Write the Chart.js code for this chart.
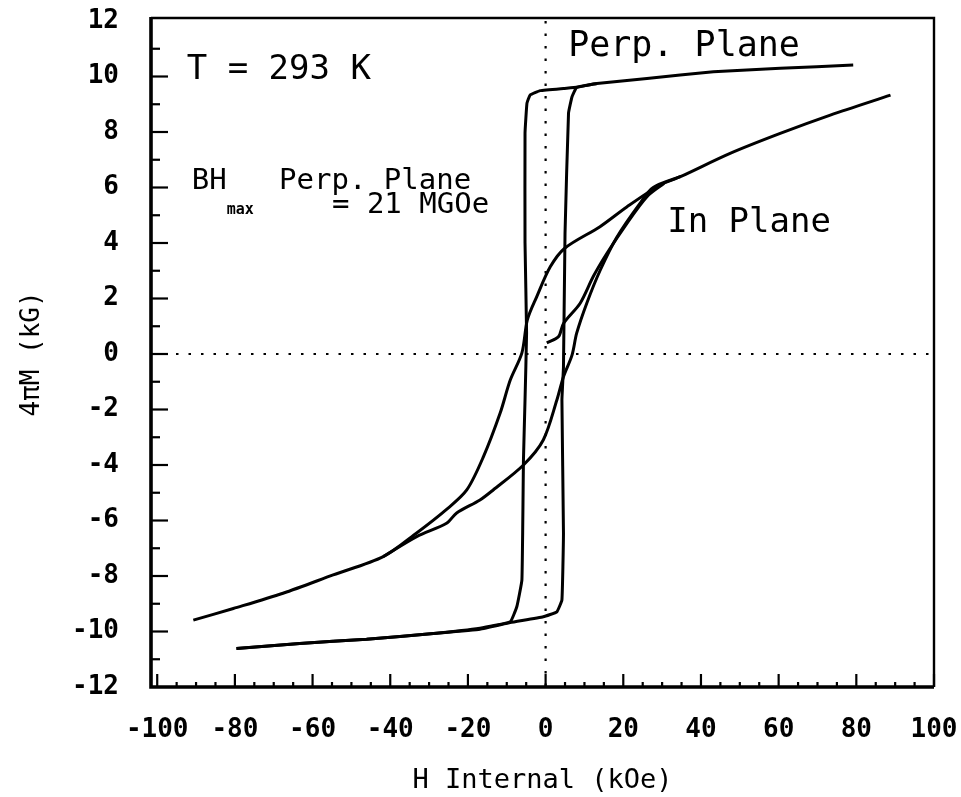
<!DOCTYPE html>
<html>
<head>
<meta charset="utf-8">
<script src="https://cdn.jsdelivr.net/npm/chart.js@4.4.1/dist/chart.umd.min.js"></script>
<style>html,body{margin:0;padding:0;background:#fff}</style>
</head>
<body>
<canvas id="loop" width="961" height="797"></canvas>
<script>
// 4piM vs H internal, perpendicular and in-plane loops at 293 K

const xTicks = [-100, -80, -60, -40, -20, 0, 20, 40, 60, 80, 100];
const yTicks = [-12, -10, -8, -6, -4, -2, 0, 2, 4, 6, 8, 10, 12];

// perp. plane, field coming down from +80
const perpDownH = [79.2, 60.4, 43.2, 26.1, 13.2, 8.0, 4.6, -1.4, -4.0, -4.8, -5.3, -5.3, -4.9, -5.3, -5.7, -6.1, -7.4, -9.1, -16.9, -28.9, -46.1, -63.3, -79.6];
const perpDownM = [10.41, 10.3, 10.17, 9.93, 9.75, 9.61, 9.57, 9.49, 9.33, 9.04, 7.96, 4.0, 0.76, -1.66, -3.8, -8.14, -9.1, -9.65, -9.88, -10.07, -10.28, -10.43, -10.61];
// perp. plane, field going back up
const perpUpH = [-79.6, -63.3, -46.1, -28.9, -16.9, -9.1, -0.6, 2.9, 4.2, 4.6, 4.2, 4.6, 5.0, 5.9, 6.8, 8.0, 13.2];
const perpUpM = [-10.61, -10.43, -10.28, -10.07, -9.92, -9.68, -9.47, -9.29, -8.86, -6.45, -1.66, -0.47, 4.36, 8.68, 9.27, 9.61, 9.75];

// in plane, descending branch
const inDownH = [88.8, 73.3, 60.4, 47.5, 34.7, 29.5, 20.9, 14.0, 5.0, 1.2, -2.3, -4.7, -6.1, -9.1, -11.7, -16.0, -20.3, -25.5, -33.2, -41.8, -54.7, -67.6, -80.4, -90.7];
const inDownM = [9.33, 8.61, 7.95, 7.23, 6.39, 6.09, 5.3, 4.59, 3.82, 3.14, 2.06, 1.23, 0.04, -0.94, -2.13, -3.7, -4.9, -5.6, -6.45, -7.3, -7.96, -8.62, -9.17, -9.59];
// in plane, ascending branch
const inUpH = [-41.8, -33.2, -25.5, -22.9, -16.9, -13.5, -5.7, -0.6, 2.9, 4.6, 6.8, 8.0, 10.6, 14.0, 18.3, 24.3, 27.7, 34.7];
const inUpM = [-7.3, -6.58, -6.1, -5.73, -5.26, -4.9, -4.0, -3.1, -1.66, -0.82, -0.04, 0.75, 1.83, 3.0, 4.2, 5.43, 6.0, 6.39];
// in plane, first curve from the origin
const inFirstH = [0.3, 3.3, 4.6, 8.9, 12.3, 15.8, 20.9, 26.1, 30.5];
const inFirstM = [0.4, 0.62, 1.1, 1.83, 2.8, 3.63, 4.7, 5.67, 6.15];

const MONO = "'DejaVu Sans Mono', 'Liberation Mono', monospace";

const notes = [
  { text: 'T = 293 K', h: -92.4, m: 10.23, size: 34 },
  { text: 'BH   Perp. Plane', h: -91.1, m: 6.2, size: 29 },
  { text: 'max', h: -82.1, m: 5.19, size: 15, bold: true },
  { text: '= 21 MGOe', h: -55.0, m: 5.37, size: 29 },
  { text: 'Perp. Plane', h: 5.8, m: 11.06, size: 35 },
  { text: 'In Plane', h: 31.3, m: 4.72, size: 34 }
];

function pts(hs, ms){ return hs.map((h,i)=>({ x: h, y: ms[i] })); }

function curve(hs, ms, tension){
  return { data: pts(hs, ms), showLine: true, pointRadius: 0, borderColor: '#000', borderWidth: 3, tension: tension };
}

function noPad(s){ s.paddingTop = 0; s.paddingBottom = 0; s.paddingLeft = 0; s.paddingRight = 0; }

const framePlugin = {
  id: 'frame',
  beforeDatasetsDraw(chart){
    const { ctx, chartArea: a, scales: { x, y } } = chart;
    ctx.save();
    // dotted zero lines
    ctx.strokeStyle = '#000'; ctx.lineWidth = 2.2; ctx.setLineDash([2.5, 10]);
    const y0 = y.getPixelForValue(0), x0 = x.getPixelForValue(0);
    ctx.beginPath(); ctx.moveTo(a.left, y0); ctx.lineTo(a.right, y0); ctx.stroke();
    ctx.beginPath(); ctx.moveTo(x0, a.top); ctx.lineTo(x0, a.bottom); ctx.stroke();
    ctx.restore();
  },
  afterDraw(chart){
    const { ctx, chartArea: a, scales: { x, y } } = chart;
    ctx.save();
    ctx.strokeStyle = '#000'; ctx.setLineDash([]);
    // box: heavy left/bottom, lighter top/right
    ctx.lineWidth = 2.4;
    ctx.beginPath(); ctx.moveTo(a.left, a.top - 3); ctx.lineTo(a.right, a.top - 3); ctx.lineTo(a.right, a.bottom); ctx.stroke();
    ctx.lineWidth = 3.6;
    ctx.beginPath(); ctx.moveTo(a.left, a.top - 4); ctx.lineTo(a.left, a.bottom); ctx.lineTo(a.right, a.bottom); ctx.stroke();
    // inward ticks
    ctx.lineWidth = 2.2;
    for (let v = -100; v <= 100; v += 5){
      const px = x.getPixelForValue(v);
      const len = v % 20 === 0 ? 13 : 5;
      ctx.beginPath(); ctx.moveTo(px, a.bottom); ctx.lineTo(px, a.bottom - len); ctx.stroke();
    }
    for (let v = -11; v <= 11; v += 1){
      const py = y.getPixelForValue(v);
      const len = v % 2 === 0 ? 17 : 9;
      ctx.beginPath(); ctx.moveTo(a.left, py); ctx.lineTo(a.left + len, py); ctx.stroke();
    }
    // text on the plot
    ctx.fillStyle = '#000'; ctx.textAlign = 'left'; ctx.textBaseline = 'middle';
    notes.forEach(n => {
      ctx.font = (n.bold ? 'bold ' : '') + n.size + 'px ' + MONO;
      ctx.fillText(n.text, x.getPixelForValue(n.h), y.getPixelForValue(n.m));
    });
    ctx.restore();
  }
};

new Chart(document.getElementById('loop'), {
  type: 'scatter',
  data: {
    datasets: [
      curve(perpDownH, perpDownM, 0.1),
      curve(perpUpH, perpUpM, 0.1),
      curve(inDownH, inDownM, 0.3),
      curve(inUpH, inUpM, 0.3),
      curve(inFirstH, inFirstM, 0.3)
    ]
  },
  options: {
    responsive: false,
    animation: false,
    layout: { padding: { top: 21, right: 27, left: 0, bottom: 0 } },
    plugins: { legend: { display: false }, tooltip: { enabled: false } },
    scales: {
      x: {
        type: 'linear', min: -101.6, max: 100,
        afterBuildTicks: (s) => { s.ticks = xTicks.map(v => ({ value: v })); },
        afterFit: (s) => { s.height = 110; noPad(s); },
        grid: { display: false }, border: { display: false },
        ticks: { color: '#000', padding: 20, maxRotation: 0, autoSkip: false, font: { family: MONO, size: 26, weight: 'bold' } },
        title: { display: true, text: 'H Internal (kOe)', color: '#000', padding: { top: 0, bottom: 0 }, font: { family: MONO, size: 27 } }
      },
      y: {
        type: 'linear', min: -12, max: 12,
        afterBuildTicks: (s) => { s.ticks = yTicks.map(v => ({ value: v })); },
        afterFit: (s) => { s.width = 151; noPad(s); },
        grid: { display: false }, border: { display: false },
        ticks: { color: '#000', padding: 24, autoSkip: false, font: { family: MONO, size: 26, weight: 'bold' } },
        title: { display: true, text: '4πM (kG)', color: '#000', padding: { top: 17, bottom: 0 }, font: { family: MONO, size: 26 } }
      }
    }
  },
  plugins: [framePlugin]
});
</script>
</body>
</html>
